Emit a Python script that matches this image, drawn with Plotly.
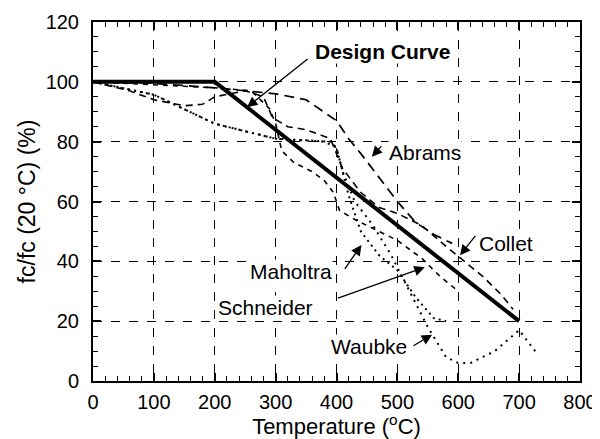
import plotly.graph_objects as go

# Design curve
design_T = [0, 200, 700]
design_f = [100, 100, 20]

abrams_T = [0, 100, 200, 300, 350, 400, 420, 440, 470, 500, 530, 560, 590]
abrams_f = [100, 99.5, 98, 96, 94, 87, 81, 76, 68, 60, 53, 49, 46]

collet_T = [0, 60, 100, 150, 180, 200, 250, 280, 295, 320, 350, 390, 400, 410, 440, 470, 500, 540, 580, 610, 640, 670, 690]
collet_f = [100, 97, 94, 92, 92.5, 95, 97, 95, 88, 85, 84, 81, 76, 71, 63, 58, 56, 52, 45, 40, 35, 29, 24]

schneider_T = [0, 100, 200, 260, 290, 300, 310, 330, 360, 380, 395, 405, 430, 470, 500, 540, 570, 600]
schneider_f = [100, 99, 98, 97, 91, 86, 77, 73, 70, 67, 63, 57, 54, 50, 47, 41, 35, 30]

maholtra_T = [0, 100, 200, 300, 390, 400, 420, 440, 470, 500, 530, 560, 580]
maholtra_f = [100, 95.7, 86, 81, 80, 78, 62, 50, 42, 37, 28, 21, 20]

waubke_T = [0, 100, 200, 300, 380, 400, 410, 430, 460, 490, 520, 550, 580, 600, 620, 660, 700, 730]
waubke_f = [100, 95.7, 86, 81, 80, 78, 70, 60, 52, 42, 30, 18, 8, 6, 6, 10, 17, 9]

x_ticks = [0, 100, 200, 300, 400, 500, 600, 700, 800]
y_ticks = [0, 20, 40, 60, 80, 100, 120]

fig = go.Figure()

def add(T, f, dash, width=1.5):
    fig.add_trace(go.Scatter(x=T, y=f, mode="lines", line=dict(color="black", width=width, dash=dash),
                             showlegend=False, hoverinfo="skip"))

add(abrams_T, abrams_f, "10px,6px", 1.7)
add(collet_T, collet_f, "7px,5px", 1.6)
add(schneider_T, schneider_f, "5px,5px", 1.6)
add(maholtra_T, maholtra_f, "2px,4px", 2)
add(waubke_T, waubke_f, "2px,5px", 2)
add(design_T, design_f, "solid", 4)

font = "Liberation Sans, Arial, sans-serif"
ann = []

def arrow(tx, ty, ax, ay):
    ann.append(dict(x=tx, y=ty, ax=ax, ay=ay, xref="x", yref="y", axref="x", ayref="y", text="",
                    showarrow=True, arrowhead=2, arrowsize=1.6, arrowwidth=1.3, arrowcolor="black"))

def label(x, y, t, bold=False):
    ann.append(dict(x=x, y=y, xref="x", yref="y", text=("<b>%s</b>" % t) if bold else t, showarrow=False,
                    font=dict(family=font, size=21, color="black"), bgcolor="white", borderpad=0))

arrow(253, 91.5, 355, 108)
label(476, 110, "Design Curve", bold=True)
arrow(458, 75, 476, 79)
label(545, 76.5, "Abrams")
arrow(603, 42, 630, 49)
label(678, 46, "Collet")
arrow(441, 45.5, 412, 37)
label(326, 36.5, "Maholtra")
arrow(545, 38, 400, 27.5)
label(283, 24.5, "Schneider")
arrow(557, 15.5, 524, 11.5)
label(453, 11.5, "Waubke")

axis_common = dict(showline=True, linecolor="black", linewidth=2, mirror="ticks", ticks="inside",
                   tickcolor="black", tickwidth=1.5, ticklen=8, showgrid=True, gridcolor="black",
                   gridwidth=1.3, griddash="dash", zeroline=False, automargin=False,
                   tickfont=dict(family=font, size=20, color="black"))

# The page body has an 8px margin, so the figure is sized to fill the rest of the window.
fig.update_layout(
    width=592, height=431,
    margin=dict(l=85, r=20, t=14, b=58),
    paper_bgcolor="white", plot_bgcolor="white",
    annotations=ann,
    xaxis=dict(range=[0, 800], tickvals=x_ticks, ticklabelstandoff=2, **axis_common,
               minor=dict(dtick=20, ticks="inside", ticklen=5, tickcolor="black", tickwidth=1.2, showgrid=False),
               title=dict(text="Temperature (<sup>o</sup>C)", font=dict(family=font, size=22, color="black"), standoff=3)),
    yaxis=dict(range=[0, 120], tickvals=y_ticks, ticklabelstandoff=8, **axis_common,
               minor=dict(dtick=5, ticks="inside", ticklen=5, tickcolor="black", tickwidth=1.2, showgrid=False),
               title=dict(text="fc/fc (20 °C) (%)", font=dict(family=font, size=23, color="black"), standoff=4)),
)

fig.write_html("out.html")
